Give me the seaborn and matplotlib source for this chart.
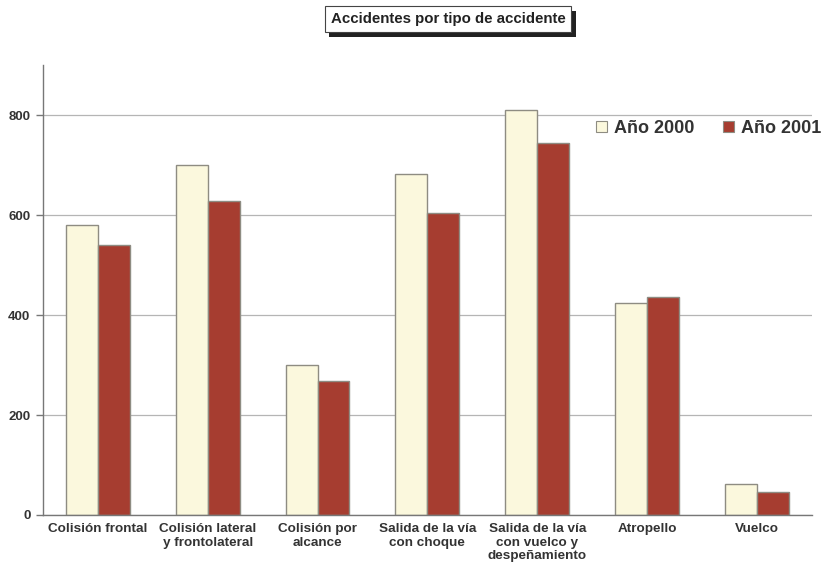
import matplotlib
matplotlib.use("Agg")
import matplotlib.pyplot as plt
import matplotlib.patheffects as pe
import seaborn as sns
import pandas as pd
import numpy as np
from matplotlib.patches import Patch

categories = ["Colisión frontal", "Colisión lateral\ny frontolateral", "Colisión por\nalcance",
              "Salida de la vía\ncon choque", "Salida de la vía\ncon vuelco y\ndespeñamiento",
              "Atropello", "Vuelco"]
series_names = ["Año 2000", "Año 2001"]
values_2000 = [580, 700, 300, 682, 810, 425, 62]
values_2001 = [540, 628, 268, 604, 745, 437, 45]
yticks = [0, 200, 400, 600, 800]

df = pd.DataFrame({
    "cat": categories * 2,
    "serie": [series_names[0]] * len(categories) + [series_names[1]] * len(categories),
    "val": values_2000 + values_2001,
})

sns.set_theme(style="white")
plt.rcParams['font.family'] = ['Liberation Sans', 'DejaVu Sans']

fig = plt.figure(figsize=(8.25, 5.72), dpi=100)
ax = fig.add_axes([0.052, 0.0997, 0.932, 0.786])

palette = {series_names[0]: "#FBF8DD", series_names[1]: "#A63D30"}
sns.barplot(data=df, x="cat", y="val", hue="serie", order=categories, hue_order=series_names,
            palette=palette, width=0.58, gap=0, ax=ax, legend=False, saturation=1,
            edgecolor="#8E8C82", linewidth=1.0)

ax.set_ylim(0, 900)
ax.set_xlim(-0.5, len(categories) - 0.5)
ax.set_yticks(yticks)
ax.set_yticklabels([str(t) for t in yticks], fontsize=9.5, fontweight="bold", color="#333333")
ax.yaxis.grid(True, color="#B5B5B5", linewidth=0.9)
ax.set_axisbelow(True)
ax.set_xlabel("")
ax.set_ylabel("")
ax.set_xticks(range(len(categories)))
ax.set_xticklabels(categories, fontsize=9.7, fontweight="bold", color="#333333", linespacing=1.15)
ax.set_xticks(np.arange(-0.5, len(categories), 1.0), minor=True)
ax.tick_params(axis="x", which="major", length=0, pad=6)
ax.tick_params(axis="x", which="minor", length=5, color="#777777", width=1)
ax.tick_params(axis="y", which="major", length=5, color="#777777", width=1, left=True, pad=4)
for s in ["top", "right"]:
    ax.spines[s].set_visible(False)
for s in ["left", "bottom"]:
    ax.spines[s].set_color("#777777")
    ax.spines[s].set_linewidth(1.0)

handles = [Patch(facecolor=palette[n], edgecolor="#8E8C82", linewidth=0.8) for n in series_names]
fig.legend(handles, series_names, loc="center", bbox_to_anchor=(0.859, 0.776), ncol=2,
           frameon=False, prop={"weight": "bold", "size": 13}, handlelength=0.6, handleheight=0.6,
           handletextpad=0.4, columnspacing=1.55, labelcolor="#333333")

title = "Accidentes por tipo de accidente"
t = fig.text(0.543, 0.966, title, ha="center", va="center", fontsize=10.8, fontweight="bold",
             color="#222222", bbox=dict(boxstyle="square,pad=0.4", facecolor="white", edgecolor="#444444",
                                        linewidth=0.8))
t.get_bbox_patch().set_path_effects([
    pe.SimplePatchShadow(offset=(3, -3), shadow_rgbFace="#222222", alpha=1.0),
    pe.Normal(),
])

fig.savefig("out.png", dpi=100)
